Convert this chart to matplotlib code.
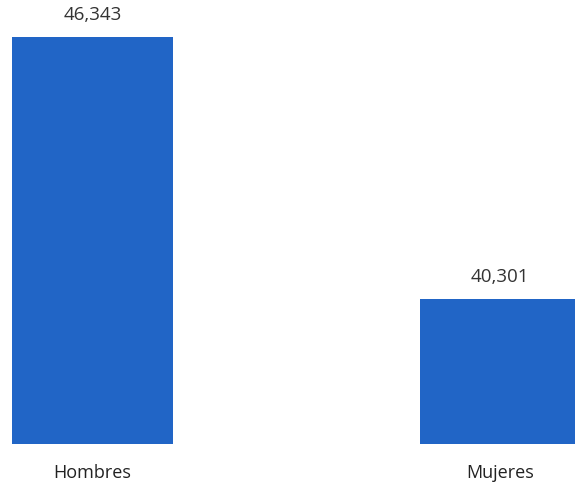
import matplotlib.pyplot as plt

categories = ['Hombres', 'Mujeres']
values = [46343, 40301]
value_labels = ['46,343', '40,301']

fig = plt.figure(figsize=(5.75, 4.89), dpi=100)
ax = fig.add_axes([0, 44 / 489, 1, 445 / 489])

x = [0, 1]
ax.bar(x, values, width=0.395, color='#2165c6')
ax.set_xlim(-0.227, 1.184)
ax.set_ylim(36960, 47220)

for xi, v, lab in zip(x, values, value_labels):
    ax.annotate(lab, (xi, v), xytext=(0, 10), textcoords='offset points',
                ha='center', va='bottom', fontsize=13.5, color='#333333',
                family='Open Sans')

for xi, c in zip(x, categories):
    ax.annotate(c, (xi, 36960), xytext=(0, -14), textcoords='offset points',
                ha='center', va='top', fontsize=13, color='#222222',
                family='Open Sans', annotation_clip=False)

ax.axis('off')
fig.savefig('out.png', dpi=100)
